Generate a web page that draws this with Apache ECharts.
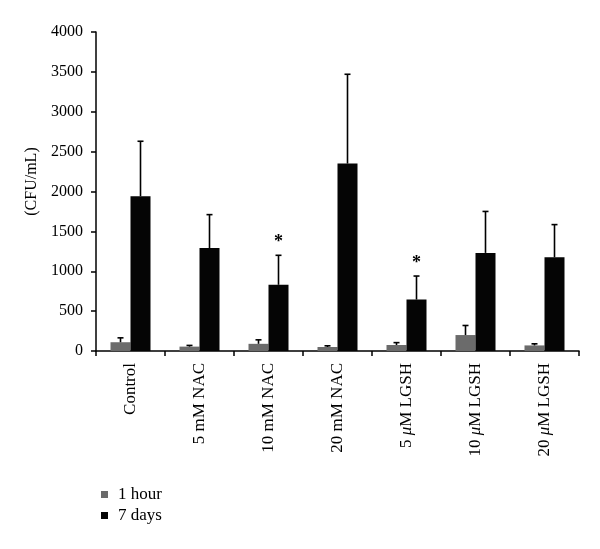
<!DOCTYPE html>
<html>
<head>
<meta charset="utf-8">
<script src="https://cdn.jsdelivr.net/npm/echarts@6/dist/echarts.min.js"></script>
<style>
html,body{margin:0;padding:0;background:#fff;}
#main{width:600px;height:549px;}
</style>
</head>
<body>
<div id="main"></div>
<script>
// 数据
var categories = ['Control', '5 mM NAC', '10 mM NAC', '20 mM NAC', '5 {i|μ}M LGSH', '10 {i|μ}M LGSH', '20 {i|μ}M LGSH'];
var hour1 = [110, 55, 90, 50, 75, 200, 70];
var hour1Err = [55, 15, 50, 15, 30, 120, 20];
var days7 = [1940, 1290, 830, 2350, 645, 1230, 1175];
var days7Err = [690, 420, 370, 1120, 295, 520, 410];
var days7Star = [0, 0, 1, 0, 1, 0, 0];
var yTicks = [0, 500, 1000, 1500, 2000, 2500, 3000, 3500, 4000];

var FONT = '"Liberation Serif", "DejaVu Serif", serif';
var BAR_W = 20;

var chart = echarts.init(document.getElementById('main'));

function errRender(offset, stars) {
    return function (params, api) {
        var i = api.value(0);
        var base = api.coord([i, api.value(1)]);
        var top = api.coord([i, api.value(1) + api.value(2)]);
        var x = base[0] + offset;
        var children = [
            {type: 'line', shape: {x1: x, y1: base[1], x2: x, y2: top[1]}, style: {stroke: '#000', lineWidth: 1.6}},
            {type: 'line', shape: {x1: x - 3, y1: top[1], x2: x + 3, y2: top[1]}, style: {stroke: '#000', lineWidth: 1.6}}
        ];
        if (stars && stars[params.dataIndex]) {
            children.push({
                type: 'text',
                style: {text: '*', x: x, y: top[1] - 4, align: 'center', verticalAlign: 'bottom',
                    font: 'bold 18px ' + FONT, fill: '#000'}
            });
        }
        return {type: 'group', children: children};
    };
}

chart.setOption({
    animation: false,
    backgroundColor: '#fff',
    grid: {left: 96, right: 21, top: 32, bottom: 198},
    legend: {
        orient: 'vertical',
        left: 96,
        top: 481,
        itemWidth: 7,
        itemHeight: 7,
        itemGap: 4,
        icon: 'rect',
        data: ['1 hour', '7 days'],
        textStyle: {fontFamily: FONT, fontSize: 17, color: '#000', padding: [0, 0, 0, 5]}
    },
    xAxis: {
        type: 'category',
        data: categories,
        axisLine: {lineStyle: {color: '#000', width: 1.5}},
        axisTick: {show: true, length: 5, alignWithLabel: false, lineStyle: {color: '#000', width: 1.5}},
        axisLabel: {
            rotate: 90,
            interval: 0,
            margin: 12,
            fontFamily: FONT,
            fontSize: 17,
            color: '#000',
            rich: {i: {fontStyle: 'italic', fontFamily: FONT, fontSize: 17, color: '#000'}}
        }
    },
    yAxis: {
        type: 'value',
        min: 0,
        max: 4000,
        interval: 500,
        name: '(CFU/mL)',
        nameLocation: 'middle',
        nameGap: 56,
        nameTextStyle: {fontFamily: FONT, fontSize: 16, color: '#000', padding: [0, 0, 0, 20]},
        splitLine: {show: false},
        axisLine: {show: true, lineStyle: {color: '#000', width: 1.5}},
        axisTick: {show: true, length: 5, lineStyle: {color: '#000', width: 1.5}},
        axisLabel: {
            margin: 13,
            fontFamily: FONT,
            fontSize: 16,
            color: '#000',
            formatter: function (v) { return yTicks.indexOf(v) >= 0 ? String(v) : ''; }
        }
    },
    series: [
        {
            name: '1 hour',
            type: 'bar',
            barWidth: BAR_W,
            barGap: '0%',
            itemStyle: {color: '#6b6b6b'},
            data: hour1
        },
        {
            name: '7 days',
            type: 'bar',
            barWidth: BAR_W,
            barGap: '0%',
            itemStyle: {color: '#050505'},
            data: days7
        },
        {
            name: '1 hour err',
            type: 'custom',
            z: 10,
            renderItem: errRender(-BAR_W / 2, null),
            encode: {x: 0, y: 1},
            data: hour1.map(function (v, i) { return [i, v, hour1Err[i]]; })
        },
        {
            name: '7 days err',
            type: 'custom',
            z: 10,
            renderItem: errRender(BAR_W / 2, days7Star),
            encode: {x: 0, y: 1},
            data: days7.map(function (v, i) { return [i, v, days7Err[i]]; })
        }
    ]
});
</script>
</body>
</html>
